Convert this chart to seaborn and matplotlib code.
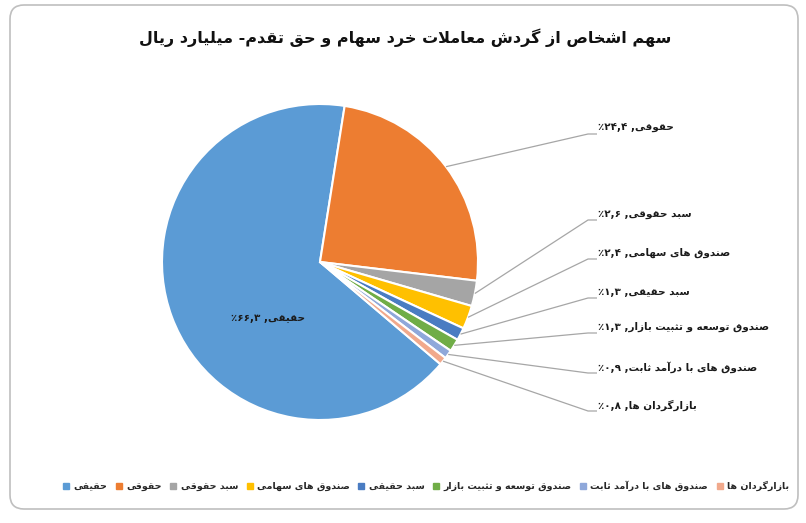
import matplotlib
matplotlib.use("Agg")
import numpy as np
import matplotlib.pyplot as plt
import seaborn as sns
from matplotlib.lines import Line2D
from matplotlib.patches import FancyBboxPatch

# ---- Data ----
title = "سهم اشخاص از گردش معاملات خرد سهام و حق تقدم- میلیارد ریال"
categories = ["حقیقی", "حقوقی", "سبد حقوقی", "صندوق های سهامی", "سبد حقیقی",
              "صندوق توسعه و تثبیت بازار", "صندوق های با درآمد ثابت", "بازارگردان ها"]
shares = [66.3, 24.4, 2.6, 2.4, 1.3, 1.3, 0.9, 0.8]
colors = ["#5B9BD5", "#ED7D31", "#A5A5A5", "#FFC000", "#4A7CC2", "#70AD47",
          "#8FA8DA", "#F1A98C"]

# ---- minimal Persian shaping (matplotlib has no complex text layout) ----
FORMS = {
    "ا": ("\uFE8D", "\uFE8E", None, None),
    "آ": ("\uFE81", "\uFE82", None, None),
    "ب": ("\uFE8F", "\uFE90", "\uFE91", "\uFE92"),
    "ت": ("\uFE95", "\uFE96", "\uFE97", "\uFE98"),
    "ث": ("\uFE99", "\uFE9A", "\uFE9B", "\uFE9C"),
    "ح": ("\uFEA1", "\uFEA2", "\uFEA3", "\uFEA4"),
    "خ": ("\uFEA5", "\uFEA6", "\uFEA7", "\uFEA8"),
    "د": ("\uFEA9", "\uFEAA", None, None),
    "ر": ("\uFEAD", "\uFEAE", None, None),
    "ز": ("\uFEAF", "\uFEB0", None, None),
    "س": ("\uFEB1", "\uFEB2", "\uFEB3", "\uFEB4"),
    "ش": ("\uFEB5", "\uFEB6", "\uFEB7", "\uFEB8"),
    "ص": ("\uFEB9", "\uFEBA", "\uFEBB", "\uFEBC"),
    "ع": ("\uFEC9", "\uFECA", "\uFECB", "\uFECC"),
    "ق": ("\uFED5", "\uFED6", "\uFED7", "\uFED8"),
    "ل": ("\uFEDD", "\uFEDE", "\uFEDF", "\uFEE0"),
    "م": ("\uFEE1", "\uFEE2", "\uFEE3", "\uFEE4"),
    "ن": ("\uFEE5", "\uFEE6", "\uFEE7", "\uFEE8"),
    "ه": ("\uFEE9", "\uFEEA", "\uFEEB", "\uFEEC"),
    "و": ("\uFEED", "\uFEEE", None, None),
    "ی": ("\uFBFC", "\uFBFD", "\uFBFE", "\uFBFF"),
    "گ": ("\uFB92", "\uFB93", "\uFB94", "\uFB95"),
    "LA": ("\uFEFB", "\uFEFC", None, None),
}


def fa(text):
    chars = []
    i = 0
    while i < len(text):
        if text[i] == "ل" and i + 1 < len(text) and text[i + 1] == "ا":
            chars.append("LA")
            i += 2
        else:
            chars.append(text[i])
            i += 1
    out = []
    for k, c in enumerate(chars):
        if c not in FORMS:
            out.append(c)
            continue
        prev = chars[k - 1] if k > 0 else None
        nxt = chars[k + 1] if k + 1 < len(chars) else None
        p = prev in FORMS and FORMS[prev][2] is not None
        n = FORMS[c][2] is not None and nxt in FORMS
        iso, fin, ini, med = FORMS[c]
        out.append(med if (p and n) else fin if p else ini if n else iso)
    return "".join(reversed(out))


def fa_num(v):
    s = f"{v:.1f}".replace(".", ",")
    return s.translate(str.maketrans("0123456789", "۰۱۲۳۴۵۶۷۸۹"))


def label(name, v):
    return "٪" + fa_num(v) + " ," + fa(name)


# ---- Plotting ----
sns.set_theme(style="white")
plt.rcParams["font.family"] = ["DejaVu Sans"]

W, H = 806, 523
fig = plt.figure(figsize=(W / 100, H / 100), dpi=100)
ax = fig.add_axes([0, 0, 1, 1])

cx, cy, R = 320, H - 262, 158
wedges, _ = ax.pie(shares, colors=colors, startangle=-40.3, counterclock=False,
                   radius=R, center=(cx, cy),
                   wedgeprops=dict(edgecolor="white", linewidth=1.5))
ax.set_xlim(0, W)
ax.set_ylim(0, H)
ax.set_aspect("equal")
ax.axis("off")

# outside labels (all but the big slice) in a column on the right
label_x = 598
label_y = [None, 128, 214, 253, 292, 327, 367, 405]
for i, w in enumerate(wedges):
    if i == 0:
        continue
    mid = np.deg2rad((w.theta1 + w.theta2) / 2)
    x0, y0 = cx + R * np.cos(mid), cy + R * np.sin(mid)
    ly = H - label_y[i]
    ax.plot([x0, label_x - 10, label_x - 1], [y0, ly - 6, ly - 6],
            color="#A6A6A6", lw=0.9, solid_capstyle="butt")
    ax.text(label_x, ly, label(categories[i], shares[i]), ha="left", va="center",
            fontsize=7.5, fontweight="bold", color="#1a1a1a")

# label inside the big slice
ax.text(cx - 52, cy - 56, label(categories[0], shares[0]), ha="center", va="center",
        fontsize=7.5, fontweight="bold", color="#1a1a1a")

ax.text(W / 2 + 2, H - 38, fa(title), ha="center", va="center",
        fontsize=11.5, fontweight="bold", color="#111111")

handles = [Line2D([], [], marker="s", linestyle="", markersize=4.5, color=c) for c in colors]
fig.legend(handles, [fa(c) for c in categories], loc="center",
           bbox_to_anchor=(426 / W, 1 - 486 / H), ncol=8, frameon=False,
           prop=dict(size=6.8, weight="bold"), handlelength=0.7, handletextpad=0.4,
           columnspacing=0.9, borderaxespad=0, borderpad=0)

ax.add_patch(FancyBboxPatch((10, H - 509), 788, 504,
                            boxstyle="round,pad=0,rounding_size=14",
                            fill=False, edgecolor="#BFBFBF", lw=1.2, clip_on=False))

fig.savefig("out.png", dpi=100)
plt.close(fig)
